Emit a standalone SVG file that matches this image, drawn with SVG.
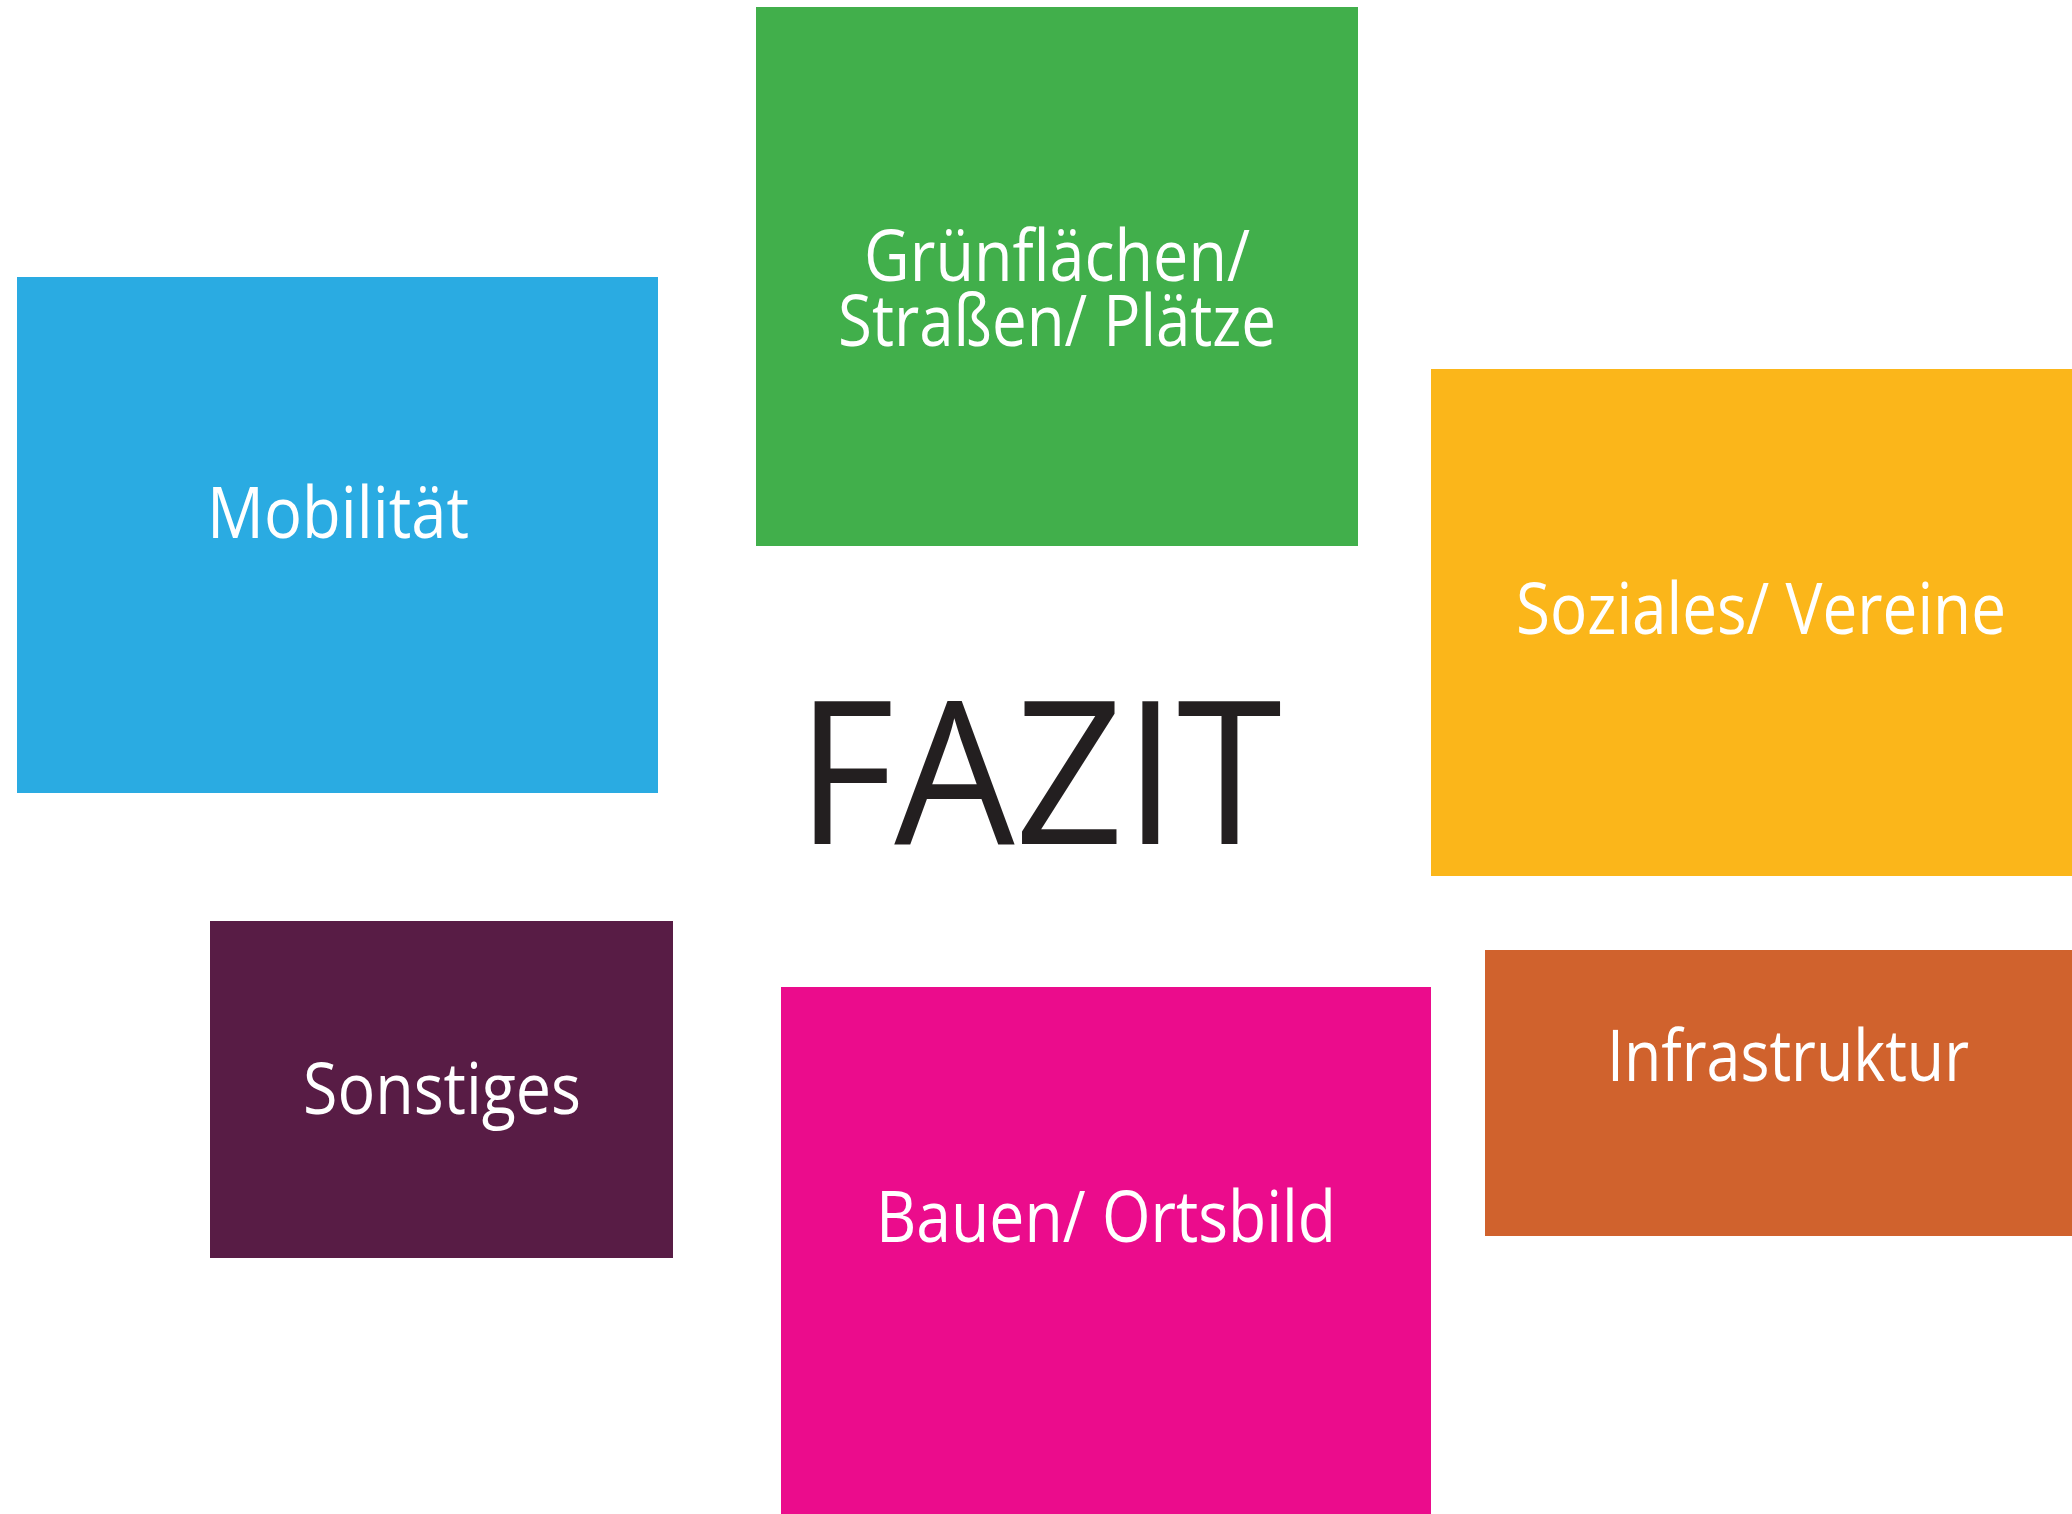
<svg xmlns="http://www.w3.org/2000/svg" width="2072" height="1514" viewBox="0 0 2072 1514">
<style>
.lbl{font-family:"Open Sans","Noto Sans","Liberation Sans",sans-serif;font-size:72px;fill:#ffffff;text-anchor:middle}
.title{font-family:"Open Sans","Liberation Sans",sans-serif;font-size:200px;fill:#231F20;text-anchor:middle}
</style>
<rect width="2072" height="1514" fill="#ffffff"/>
<g id="gruenflaechen">
<rect x="756" y="7" width="602" height="539" fill="#41AF4B"/>
<text class="lbl" x="1057" y="281" textLength="386" lengthAdjust="spacingAndGlyphs">Grünflächen/</text>
<text class="lbl" x="1057" y="346" textLength="438" lengthAdjust="spacingAndGlyphs">Straßen/ Plätze</text>
</g>
<g id="mobilitaet">
<rect x="17" y="277" width="641" height="516" fill="#2AABE2"/>
<text class="lbl" x="338" y="538" textLength="262" lengthAdjust="spacingAndGlyphs">Mobilität</text>
</g>
<g id="soziales">
<rect x="1431" y="369" width="641" height="507" fill="#FBB61A"/>
<text class="lbl" x="1761" y="634" textLength="490" lengthAdjust="spacingAndGlyphs">Soziales/ Vereine</text>
</g>
<g id="sonstiges">
<rect x="210" y="921" width="463" height="337" fill="#581C45"/>
<text class="lbl" x="442" y="1114" textLength="278" lengthAdjust="spacingAndGlyphs">Sonstiges</text>
</g>
<g id="bauen">
<rect x="781" y="987" width="650" height="527" fill="#EB0C8C"/>
<text class="lbl" x="1106" y="1242" textLength="460" lengthAdjust="spacingAndGlyphs">Bauen/ Ortsbild</text>
</g>
<g id="infrastruktur">
<rect x="1485" y="950" width="587" height="286" fill="#D0622D"/>
<text class="lbl" x="1788" y="1081" textLength="362" lengthAdjust="spacingAndGlyphs">Infrastruktur</text>
</g>
<g id="fazit">
<text class="title" x="1039" y="844" textLength="486" lengthAdjust="spacingAndGlyphs">FAZIT</text>
</g>
<g id="connectors"></g>
</svg>
